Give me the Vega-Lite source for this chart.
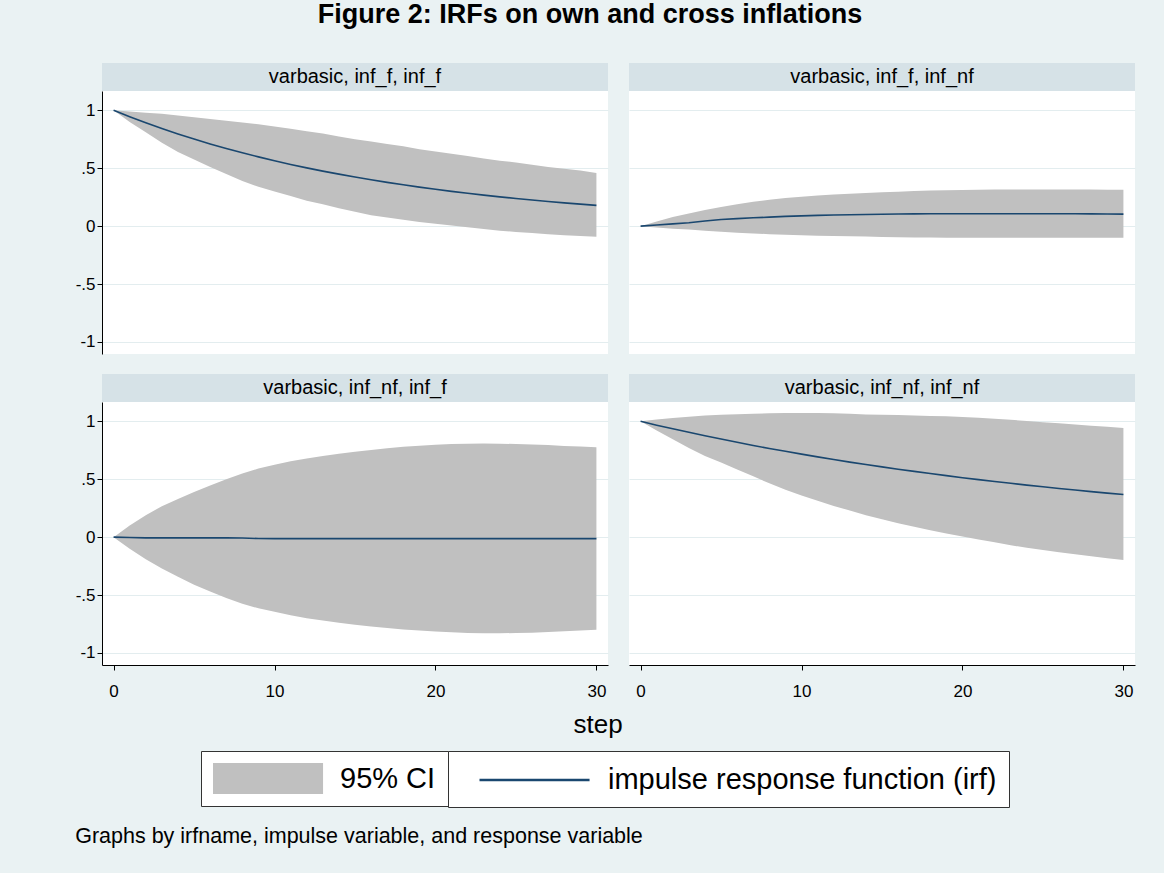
{
  "$schema": "https://vega.github.io/schema/vega-lite/v6.json",
  "background": "#EAF2F3",
  "padding": {"left": 75, "top": 1, "right": 29, "bottom": 28},
  "title": {"text": "Graphs by irfname, impulse variable, and response variable", "orient": "bottom", "anchor": "start", "frame": "bounds", "fontSize": 21.5, "fontWeight": "normal", "color": "black", "offset": 18},
  "datasets": {
    "headers": [
      {"p": "p1", "label": "varbasic, inf_f, inf_f"},
      {"p": "p2", "label": "varbasic, inf_f, inf_nf"},
      {"p": "p3", "label": "varbasic, inf_nf, inf_f"},
      {"p": "p4", "label": "varbasic, inf_nf, inf_nf"}
    ],
    "irf": [
      {"p":"p1","s":0,"irf":1.0,"lo":1.0,"hi":1.0},
      {"p":"p1","s":1,"irf":0.945,"lo":0.90,"hi":0.99},
      {"p":"p1","s":2,"irf":0.893,"lo":0.81,"hi":0.98},
      {"p":"p1","s":3,"irf":0.843,"lo":0.72,"hi":0.97},
      {"p":"p1","s":4,"irf":0.796,"lo":0.64,"hi":0.955},
      {"p":"p1","s":5,"irf":0.752,"lo":0.575,"hi":0.94},
      {"p":"p1","s":6,"irf":0.71,"lo":0.51,"hi":0.925},
      {"p":"p1","s":7,"irf":0.67,"lo":0.45,"hi":0.91},
      {"p":"p1","s":8,"irf":0.633,"lo":0.39,"hi":0.895},
      {"p":"p1","s":9,"irf":0.598,"lo":0.34,"hi":0.88},
      {"p":"p1","s":10,"irf":0.564,"lo":0.30,"hi":0.86},
      {"p":"p1","s":11,"irf":0.533,"lo":0.26,"hi":0.84},
      {"p":"p1","s":12,"irf":0.503,"lo":0.22,"hi":0.82},
      {"p":"p1","s":13,"irf":0.475,"lo":0.19,"hi":0.80},
      {"p":"p1","s":14,"irf":0.449,"lo":0.155,"hi":0.775},
      {"p":"p1","s":15,"irf":0.424,"lo":0.125,"hi":0.75},
      {"p":"p1","s":16,"irf":0.40,"lo":0.095,"hi":0.73},
      {"p":"p1","s":17,"irf":0.378,"lo":0.075,"hi":0.71},
      {"p":"p1","s":18,"irf":0.357,"lo":0.055,"hi":0.69},
      {"p":"p1","s":19,"irf":0.337,"lo":0.035,"hi":0.665},
      {"p":"p1","s":20,"irf":0.318,"lo":0.02,"hi":0.645},
      {"p":"p1","s":21,"irf":0.30,"lo":0.005,"hi":0.625},
      {"p":"p1","s":22,"irf":0.284,"lo":-0.01,"hi":0.605},
      {"p":"p1","s":23,"irf":0.268,"lo":-0.025,"hi":0.585},
      {"p":"p1","s":24,"irf":0.253,"lo":-0.04,"hi":0.565},
      {"p":"p1","s":25,"irf":0.239,"lo":-0.05,"hi":0.55},
      {"p":"p1","s":26,"irf":0.226,"lo":-0.06,"hi":0.53},
      {"p":"p1","s":27,"irf":0.213,"lo":-0.07,"hi":0.51},
      {"p":"p1","s":28,"irf":0.201,"lo":-0.078,"hi":0.495},
      {"p":"p1","s":29,"irf":0.19,"lo":-0.085,"hi":0.48},
      {"p":"p1","s":30,"irf":0.179,"lo":-0.092,"hi":0.46},
      {"p":"p2","s":0,"irf":0,"lo":0,"hi":0},
      {"p":"p2","s":1,"irf":0.01,"lo":-0.012,"hi":0.04},
      {"p":"p2","s":2,"irf":0.02,"lo":-0.022,"hi":0.078},
      {"p":"p2","s":3,"irf":0.03,"lo":-0.03,"hi":0.11},
      {"p":"p2","s":4,"irf":0.045,"lo":-0.04,"hi":0.14},
      {"p":"p2","s":5,"irf":0.058,"lo":-0.048,"hi":0.165},
      {"p":"p2","s":6,"irf":0.065,"lo":-0.056,"hi":0.19},
      {"p":"p2","s":7,"irf":0.072,"lo":-0.063,"hi":0.21},
      {"p":"p2","s":8,"irf":0.078,"lo":-0.069,"hi":0.228},
      {"p":"p2","s":9,"irf":0.084,"lo":-0.074,"hi":0.242},
      {"p":"p2","s":10,"irf":0.089,"lo":-0.078,"hi":0.254},
      {"p":"p2","s":11,"irf":0.093,"lo":-0.082,"hi":0.264},
      {"p":"p2","s":12,"irf":0.096,"lo":-0.085,"hi":0.273},
      {"p":"p2","s":13,"irf":0.099,"lo":-0.088,"hi":0.28},
      {"p":"p2","s":14,"irf":0.101,"lo":-0.09,"hi":0.287},
      {"p":"p2","s":15,"irf":0.103,"lo":-0.093,"hi":0.293},
      {"p":"p2","s":16,"irf":0.105,"lo":-0.095,"hi":0.298},
      {"p":"p2","s":17,"irf":0.106,"lo":-0.097,"hi":0.303},
      {"p":"p2","s":18,"irf":0.107,"lo":-0.099,"hi":0.307},
      {"p":"p2","s":19,"irf":0.107,"lo":-0.1,"hi":0.31},
      {"p":"p2","s":20,"irf":0.107,"lo":-0.101,"hi":0.313},
      {"p":"p2","s":21,"irf":0.107,"lo":-0.101,"hi":0.315},
      {"p":"p2","s":22,"irf":0.107,"lo":-0.101,"hi":0.317},
      {"p":"p2","s":23,"irf":0.107,"lo":-0.101,"hi":0.317},
      {"p":"p2","s":24,"irf":0.107,"lo":-0.101,"hi":0.317},
      {"p":"p2","s":25,"irf":0.107,"lo":-0.101,"hi":0.317},
      {"p":"p2","s":26,"irf":0.107,"lo":-0.101,"hi":0.317},
      {"p":"p2","s":27,"irf":0.107,"lo":-0.101,"hi":0.317},
      {"p":"p2","s":28,"irf":0.106,"lo":-0.101,"hi":0.316},
      {"p":"p2","s":29,"irf":0.105,"lo":-0.101,"hi":0.315},
      {"p":"p2","s":30,"irf":0.104,"lo":-0.101,"hi":0.314},
      {"p":"p3","s":0,"irf":0,"lo":0,"hi":0},
      {"p":"p3","s":1,"irf":-0.003,"lo":-0.1,"hi":0.1},
      {"p":"p3","s":2,"irf":-0.006,"lo":-0.19,"hi":0.19},
      {"p":"p3","s":3,"irf":-0.006,"lo":-0.27,"hi":0.267},
      {"p":"p3","s":4,"irf":-0.006,"lo":-0.342,"hi":0.33},
      {"p":"p3","s":5,"irf":-0.006,"lo":-0.41,"hi":0.39},
      {"p":"p3","s":6,"irf":-0.006,"lo":-0.47,"hi":0.445},
      {"p":"p3","s":7,"irf":-0.006,"lo":-0.525,"hi":0.5},
      {"p":"p3","s":8,"irf":-0.007,"lo":-0.575,"hi":0.55},
      {"p":"p3","s":9,"irf":-0.012,"lo":-0.615,"hi":0.592},
      {"p":"p3","s":10,"irf":-0.013,"lo":-0.645,"hi":0.625},
      {"p":"p3","s":11,"irf":-0.013,"lo":-0.675,"hi":0.655},
      {"p":"p3","s":12,"irf":-0.013,"lo":-0.7,"hi":0.68},
      {"p":"p3","s":13,"irf":-0.013,"lo":-0.72,"hi":0.7},
      {"p":"p3","s":14,"irf":-0.013,"lo":-0.74,"hi":0.72},
      {"p":"p3","s":15,"irf":-0.013,"lo":-0.757,"hi":0.738},
      {"p":"p3","s":16,"irf":-0.013,"lo":-0.772,"hi":0.753},
      {"p":"p3","s":17,"irf":-0.013,"lo":-0.785,"hi":0.767},
      {"p":"p3","s":18,"irf":-0.013,"lo":-0.797,"hi":0.78},
      {"p":"p3","s":19,"irf":-0.013,"lo":-0.807,"hi":0.79},
      {"p":"p3","s":20,"irf":-0.013,"lo":-0.815,"hi":0.798},
      {"p":"p3","s":21,"irf":-0.013,"lo":-0.822,"hi":0.804},
      {"p":"p3","s":22,"irf":-0.013,"lo":-0.827,"hi":0.807},
      {"p":"p3","s":23,"irf":-0.013,"lo":-0.83,"hi":0.808},
      {"p":"p3","s":24,"irf":-0.013,"lo":-0.83,"hi":0.807},
      {"p":"p3","s":25,"irf":-0.013,"lo":-0.828,"hi":0.804},
      {"p":"p3","s":26,"irf":-0.013,"lo":-0.825,"hi":0.8},
      {"p":"p3","s":27,"irf":-0.013,"lo":-0.82,"hi":0.795},
      {"p":"p3","s":28,"irf":-0.013,"lo":-0.813,"hi":0.788},
      {"p":"p3","s":29,"irf":-0.013,"lo":-0.806,"hi":0.782},
      {"p":"p3","s":30,"irf":-0.013,"lo":-0.8,"hi":0.776},
      {"p":"p4","s":0,"irf":1.0,"lo":1.0,"hi":1.0},
      {"p":"p4","s":1,"irf":0.967,"lo":0.92,"hi":1.015},
      {"p":"p4","s":2,"irf":0.936,"lo":0.845,"hi":1.028},
      {"p":"p4","s":3,"irf":0.905,"lo":0.77,"hi":1.04},
      {"p":"p4","s":4,"irf":0.875,"lo":0.70,"hi":1.05},
      {"p":"p4","s":5,"irf":0.847,"lo":0.645,"hi":1.057},
      {"p":"p4","s":6,"irf":0.819,"lo":0.585,"hi":1.062},
      {"p":"p4","s":7,"irf":0.792,"lo":0.525,"hi":1.066},
      {"p":"p4","s":8,"irf":0.766,"lo":0.465,"hi":1.069},
      {"p":"p4","s":9,"irf":0.741,"lo":0.41,"hi":1.071},
      {"p":"p4","s":10,"irf":0.717,"lo":0.36,"hi":1.072},
      {"p":"p4","s":11,"irf":0.693,"lo":0.315,"hi":1.072},
      {"p":"p4","s":12,"irf":0.67,"lo":0.27,"hi":1.07},
      {"p":"p4","s":13,"irf":0.648,"lo":0.23,"hi":1.066},
      {"p":"p4","s":14,"irf":0.627,"lo":0.19,"hi":1.06},
      {"p":"p4","s":15,"irf":0.607,"lo":0.155,"hi":1.057},
      {"p":"p4","s":16,"irf":0.587,"lo":0.12,"hi":1.054},
      {"p":"p4","s":17,"irf":0.568,"lo":0.09,"hi":1.05},
      {"p":"p4","s":18,"irf":0.549,"lo":0.06,"hi":1.047},
      {"p":"p4","s":19,"irf":0.531,"lo":0.032,"hi":1.043},
      {"p":"p4","s":20,"irf":0.513,"lo":0.005,"hi":1.037},
      {"p":"p4","s":21,"irf":0.497,"lo":-0.02,"hi":1.03},
      {"p":"p4","s":22,"irf":0.48,"lo":-0.045,"hi":1.022},
      {"p":"p4","s":23,"irf":0.465,"lo":-0.07,"hi":1.013},
      {"p":"p4","s":24,"irf":0.449,"lo":-0.092,"hi":1.003},
      {"p":"p4","s":25,"irf":0.435,"lo":-0.112,"hi":0.993},
      {"p":"p4","s":26,"irf":0.42,"lo":-0.13,"hi":0.983},
      {"p":"p4","s":27,"irf":0.407,"lo":-0.148,"hi":0.973},
      {"p":"p4","s":28,"irf":0.393,"lo":-0.166,"hi":0.963},
      {"p":"p4","s":29,"irf":0.38,"lo":-0.182,"hi":0.953},
      {"p":"p4","s":30,"irf":0.368,"lo":-0.198,"hi":0.943}
    ]
  },
  "vconcat": [
    {
      "title": {"text": "Figure 2: IRFs on own and cross inflations", "fontSize": 27, "fontWeight": "bold", "color": "black", "offset": 34, "anchor": "middle", "dx": -15},
      "spacing": 20,
      "vconcat": [
        {
          "spacing": 21,
          "hconcat": [
            {
              "spacing": 0,
              "vconcat": [
                {"data": {"name": "headers"}, "transform": [{"filter": "datum.p == 'p1'"}], "width": 506, "height": 28, "view": {"fill": "#D6E2E7", "stroke": null},
                 "mark": {"type": "text", "fontSize": 20, "baseline": "middle", "align": "center", "color": "black"},
                 "encoding": {"text": {"field": "label"}}},
                {"data": {"name": "irf"}, "transform": [{"filter": "datum.p == 'p1'"}], "width": 506, "height": 263, "view": {"fill": "white", "stroke": null},
                 "layer": [
                   {"mark": {"type": "area", "opacity": 1},
                    "encoding": {
                      "x": {"field": "s", "type": "quantitative", "title": null, "scale": {"domain": [-0.72, 30.72], "nice": false, "zero": false}, "axis": null},
                      "y": {"field": "lo", "type": "quantitative", "title": null, "scale": {"domain": [-1.104, 1.167], "nice": false, "zero": false},
                            "axis": {"values": [-1, -0.5, 0, 0.5, 1], "labelExpr": "datum.value == 1 ? '1' : datum.value == 0.5 ? '.5' : datum.value == 0 ? '0' : datum.value == -0.5 ? '-.5' : '-1'", "grid": true, "labelPadding": 2, "title": null}},
                      "y2": {"field": "hi"},
                      "fill": {"datum": "95% CI", "scale": {"domain": ["95% CI"], "range": ["#C0C0C0"]},
                               "legend": {"title": null, "symbolType": "M-1,-1H6.1V1H-1Z", "symbolStrokeWidth": 0}}
                    }},
                   {"mark": {"type": "line", "strokeWidth": 1.6},
                    "encoding": {
                      "x": {"field": "s", "type": "quantitative", "title": null},
                      "y": {"field": "irf", "type": "quantitative", "title": null},
                      "stroke": {"datum": "impulse response function (irf)", "scale": {"domain": ["impulse response function (irf)"], "range": ["#1A476F"]},
                                 "legend": {"title": " ", "titleOrient": "left", "titleFontSize": 2, "titlePadding": 18, "symbolType": "M-1,0H6.1", "symbolStrokeWidth": 2.5}}
                    }}
                 ]}
              ]
            },
            {
              "spacing": 0,
              "vconcat": [
                {"data": {"name": "headers"}, "transform": [{"filter": "datum.p == 'p2'"}], "width": 506, "height": 28, "view": {"fill": "#D6E2E7", "stroke": null},
                 "mark": {"type": "text", "fontSize": 20, "baseline": "middle", "align": "center", "color": "black"},
                 "encoding": {"text": {"field": "label"}}},
                {"data": {"name": "irf"}, "transform": [{"filter": "datum.p == 'p2'"}], "width": 506, "height": 263, "view": {"fill": "white", "stroke": null},
                 "layer": [
                   {"mark": {"type": "area", "opacity": 1},
                    "encoding": {
                      "x": {"field": "s", "type": "quantitative", "title": null, "scale": {"domain": [-0.72, 30.72], "nice": false, "zero": false}, "axis": null},
                      "y": {"field": "lo", "type": "quantitative", "title": null, "scale": {"domain": [-1.104, 1.167], "nice": false, "zero": false},
                            "axis": {"values": [-1, -0.5, 0, 0.5, 1], "grid": true, "labels": false, "ticks": false, "domain": false, "title": null}},
                      "y2": {"field": "hi"},
                      "fill": {"datum": "95% CI"}
                    }},
                   {"mark": {"type": "line", "strokeWidth": 1.6},
                    "encoding": {
                      "x": {"field": "s", "type": "quantitative", "title": null},
                      "y": {"field": "irf", "type": "quantitative", "title": null},
                      "stroke": {"datum": "impulse response function (irf)"}
                    }}
                 ]}
              ]
            }
          ]
        },
        {
          "spacing": 21,
          "title": {"text": "step", "orient": "bottom", "anchor": "middle", "fontSize": 26, "fontWeight": "normal", "color": "black", "offset": 13, "dx": -7},
          "hconcat": [
            {
              "spacing": 0,
              "vconcat": [
                {"data": {"name": "headers"}, "transform": [{"filter": "datum.p == 'p3'"}], "width": 506, "height": 28, "view": {"fill": "#D6E2E7", "stroke": null},
                 "mark": {"type": "text", "fontSize": 20, "baseline": "middle", "align": "center", "color": "black"},
                 "encoding": {"text": {"field": "label"}}},
                {"data": {"name": "irf"}, "transform": [{"filter": "datum.p == 'p3'"}], "width": 506, "height": 263, "view": {"fill": "white", "stroke": null},
                 "layer": [
                   {"mark": {"type": "area", "opacity": 1},
                    "encoding": {
                      "x": {"field": "s", "type": "quantitative", "title": null, "scale": {"domain": [-0.72, 30.72], "nice": false, "zero": false},
                            "axis": {"values": [0, 10, 20, 30], "grid": false, "labelPadding": 13, "labelFlush": false, "title": null}},
                      "y": {"field": "lo", "type": "quantitative", "title": null, "scale": {"domain": [-1.104, 1.167], "nice": false, "zero": false},
                            "axis": {"values": [-1, -0.5, 0, 0.5, 1], "labelExpr": "datum.value == 1 ? '1' : datum.value == 0.5 ? '.5' : datum.value == 0 ? '0' : datum.value == -0.5 ? '-.5' : '-1'", "grid": true, "labelPadding": 2, "title": null}},
                      "y2": {"field": "hi"},
                      "fill": {"datum": "95% CI"}
                    }},
                   {"mark": {"type": "line", "strokeWidth": 1.6},
                    "encoding": {
                      "x": {"field": "s", "type": "quantitative", "title": null},
                      "y": {"field": "irf", "type": "quantitative", "title": null},
                      "stroke": {"datum": "impulse response function (irf)"}
                    }}
                 ]}
              ]
            },
            {
              "spacing": 0,
              "vconcat": [
                {"data": {"name": "headers"}, "transform": [{"filter": "datum.p == 'p4'"}], "width": 506, "height": 28, "view": {"fill": "#D6E2E7", "stroke": null},
                 "mark": {"type": "text", "fontSize": 20, "baseline": "middle", "align": "center", "color": "black"},
                 "encoding": {"text": {"field": "label"}}},
                {"data": {"name": "irf"}, "transform": [{"filter": "datum.p == 'p4'"}], "width": 506, "height": 263, "view": {"fill": "white", "stroke": null},
                 "layer": [
                   {"mark": {"type": "area", "opacity": 1},
                    "encoding": {
                      "x": {"field": "s", "type": "quantitative", "title": null, "scale": {"domain": [-0.72, 30.72], "nice": false, "zero": false},
                            "axis": {"values": [0, 10, 20, 30], "grid": false, "labelPadding": 13, "labelFlush": false, "title": null}},
                      "y": {"field": "lo", "type": "quantitative", "title": null, "scale": {"domain": [-1.104, 1.167], "nice": false, "zero": false},
                            "axis": {"values": [-1, -0.5, 0, 0.5, 1], "grid": true, "labels": false, "ticks": false, "domain": false, "title": null}},
                      "y2": {"field": "hi"},
                      "fill": {"datum": "95% CI"}
                    }},
                   {"mark": {"type": "line", "strokeWidth": 1.6},
                    "encoding": {
                      "x": {"field": "s", "type": "quantitative", "title": null},
                      "y": {"field": "irf", "type": "quantitative", "title": null},
                      "stroke": {"datum": "impulse response function (irf)"}
                    }}
                 ]}
              ]
            }
          ]
        }
      ]
    }
  ],
  "config": {
    "font": "Liberation Sans",
    "view": {"stroke": null},
    "axis": {"domainColor": "black", "tickColor": "black", "labelColor": "black", "labelFontSize": 17, "tickSize": 5, "gridColor": "#E3EDEF", "gridWidth": 1.2, "domainWidth": 1, "tickWidth": 1},
    "legend": {
      "orient": "bottom", "direction": "horizontal", "offset": 13, "padding": 12,
      "strokeColor": "#333333", "fillColor": "white", "cornerRadius": 0,
      "labelFontSize": 29, "labelColor": "black", "labelLimit": 1000, "labelOffset": 96,
      "symbolSize": 961, "symbolOpacity": 1,
      "layout": {"bottom": {"anchor": "middle", "direction": "horizontal", "margin": 0}}
    },
    "title": {"color": "black"}
  }
}
